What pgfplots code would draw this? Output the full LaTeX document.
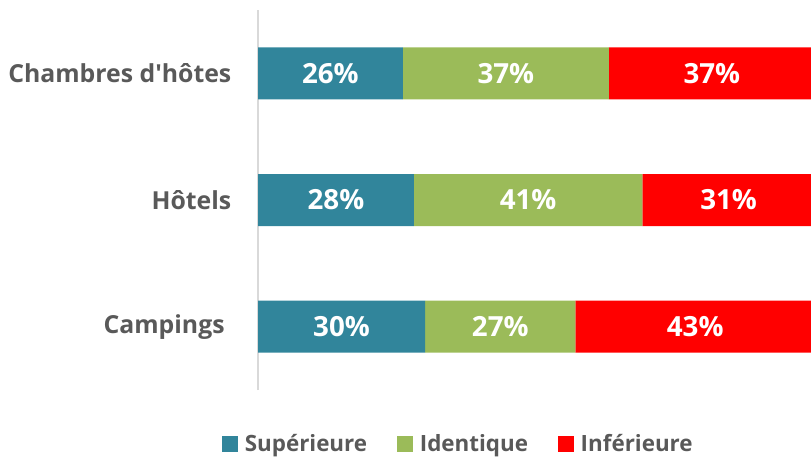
\documentclass[border=0pt]{standalone}
\usepackage{fontspec}
\setmainfont{Open Sans}
\usepackage{pgfplots}
\pgfplotsset{compat=1.18}
\usepackage{pgfplotstable}
\definecolor{sup}{RGB}{49,133,155}
\definecolor{ide}{RGB}{155,187,89}
\definecolor{inf}{RGB}{255,0,0}
\definecolor{txt}{RGB}{89,89,89}
\definecolor{axl}{RGB}{217,217,217}

\pgfplotstableread{
cat sup ide inf
Campings 30 27 43
Hotels 28 41 31
Chambres 26 37 37
}\data

\pgfplotsset{common/.style={
  at={(193.5pt,51pt)}, anchor=south west,
  scale only axis, width=414.75pt, height=285pt,
  xmin=0, xmax=99.3, ymin=-0.5, ymax=2.5}}

\begin{document}
\begin{tikzpicture}
\useasboundingbox (0,0) rectangle (608.25pt,343.5pt);
\begin{axis}[common,
  xbar stacked, bar width=39pt,
  axis x line=none, axis y line*=left,
  y axis line style={draw=axl, line width=1.2pt, -},
  ytick={0,1,2},
  yticklabels={Campings\hspace*{5pt}, H\^otels, Chambres d\textquotesingle h\^otes},
  yticklabel style={font=\fontsize{18.6}{22}\selectfont\bfseries, text=txt, xshift=-16.5pt},
  major tick length=0pt,
  legend columns=3,
  legend style={draw=none, fill=none, at={(0.363,-0.142)}, anchor=center,
    font=\fontsize{16.8}{20}\selectfont\bfseries, text=txt,
    /tikz/every even column/.append style={column sep=20.5pt}},
  legend cell align=left,
  legend image code/.code={\fill[#1] (0pt,-6pt) rectangle (12pt,6pt); \path (15pt,0pt);},
]
\addplot[fill=sup, draw=none] table[x=sup, y expr=\coordindex] {\data};
\addlegendentry{Supérieure}
\addplot[fill=ide, draw=none] table[x=ide, y expr=\coordindex] {\data};
\addlegendentry{Identique}
\addplot[fill=inf, draw=none] table[x=inf, y expr=\coordindex] {\data};
\addlegendentry{Inférieure}
\end{axis}
\begin{axis}[common, hide axis, clip=false,
  point meta=explicit symbolic,
  nodes near coords={\pgfplotspointmeta\%},
  every node near coord/.append style={anchor=center, text=white,
    font=\fontsize{20.8}{24}\selectfont\bfseries}]
\addplot[draw=none, mark=none] table[x expr=\thisrow{sup}/2, y expr=\coordindex, meta=sup] {\data};
\addplot[draw=none, mark=none] table[x expr=\thisrow{sup}+\thisrow{ide}/2, y expr=\coordindex, meta=ide] {\data};
\addplot[draw=none, mark=none] table[x expr=\thisrow{sup}+\thisrow{ide}+\thisrow{inf}/2, y expr=\coordindex, meta=inf] {\data};
\end{axis}
\end{tikzpicture}
\end{document}
